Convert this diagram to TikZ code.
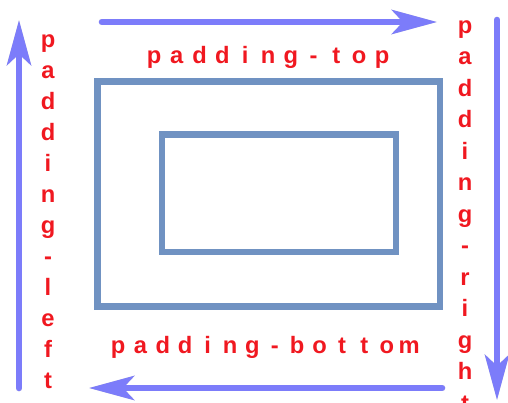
\documentclass[tikz,border=0pt]{standalone}
\usepackage{fontspec}
\setmainfont{Liberation Sans}
\usetikzlibrary{arrows.meta}
\definecolor{boxblue}{RGB}{112,146,194}
\definecolor{arrowblue}{RGB}{124,124,250}
\definecolor{padred}{RGB}{240,24,32}
\tikzset{
	box/.style={draw=boxblue,line width=0.13cm},
	padarrow/.style={draw=arrowblue,line width=0.13cm,line cap=round,
		-{Stealth[length=0.9cm,width=0.48cm,inset=0.22cm]}},
	padshadow/.style={padarrow,draw=black,opacity=.18,shift={(1.5,2)}},
	letter/.style={text=padred,font=\bfseries\fontsize{13.5}{13.5}\selectfont,inner sep=0pt,anchor=base}
}
\begin{document}
\begin{tikzpicture}[x=0.02cm,y=-0.02cm]
	\clip (0,0) rectangle (508,403);
	
	\def\topx{154}\def\topy{63}
	\def\botx{118}\def\boty{353}
	\def\leftx{48}\def\lefty{47}
	\def\rightx{465}\def\righty{33}
	
	%hai hình chữ nhật
	\draw[box] (97.5,81.5) rectangle (440,306.5);
	\draw[box] (162,134.5) rectangle (396,252);
	
	\coordinate (tA) at (102,22);  \coordinate (tB) at (437,22);
	\coordinate (rA) at (497,20);  \coordinate (rB) at (497,400);
	\coordinate (bA) at (442,388); \coordinate (bB) at (89,388);
	\coordinate (lA) at (19,388);  \coordinate (lB) at (19,20);
	\foreach \p/\q in {tA/tB,rA/rB,bA/bB,lA/lB}{
		\draw[padshadow] (\p)--(\q);
		\draw[padarrow] (\p)--(\q);
	}
	
	\foreach \ch [count=\i from 0] in {p,a,d,d,i,n,g,-,t,o,p}
		\node[letter] (top\i) at ({\topx+22.8*\i},\topy) {\ch};
	\foreach \ch [count=\i from 0] in {p,a,d,d,i,n,g,-,b,o,t,t,o,m}
		\node[letter] (bot\i) at ({\botx+22.4*\i},\boty) {\ch};
	\foreach \ch [count=\i from 0] in {p,a,d,d,i,n,g,-,l,e,f,t}
		\node[letter] (left\i) at (\leftx,{\lefty+31*\i}) {\ch};
	\foreach \ch [count=\i from 0] in {p,a,d,d,i,n,g,-,r,i,g,h,t}
		\node[letter] (right\i) at (\rightx,{\righty+31.5*\i}) {\ch};
	
\end{tikzpicture}
\end{document}
